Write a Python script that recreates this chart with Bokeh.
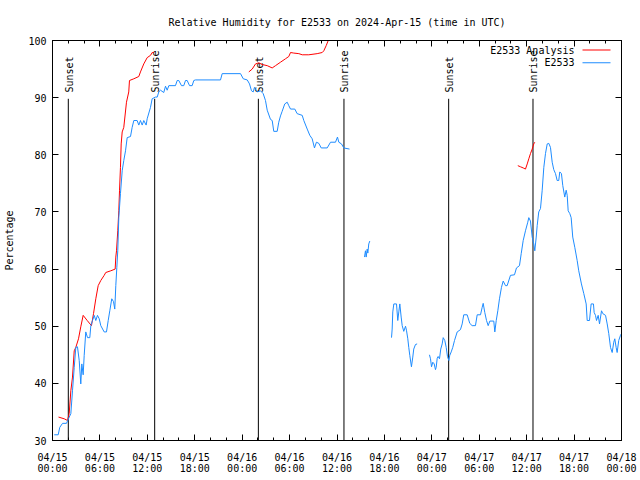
import math
from bokeh.plotting import figure
from bokeh.models import Range1d, FixedTicker, LinearAxis, Label, BoxAnnotation
from bokeh.core.properties import value
from bokeh.embed import file_html
from bokeh.resources import INLINE

NAN = float("nan")

title_text = "Relative Humidity for E2533 on 2024-Apr-15 (time in UTC)"
y_label = "Percentage"

# Observed relative humidity (hours since 2024-04-15 00:00 UTC); NaN = data gap
obs_hours = [
    0.22, 0.72, 0.92, 1.27, 1.77, 2.02, 2.32, 2.53, 2.75, 2.95, 3.16, 3.38, 3.58, 3.71, 3.88,
    4.01, 4.21, 4.43, 4.72, 4.85, 5.06, 5.28, 5.48, 5.69, 5.91, 6.11, 6.54, 6.83, 7.05, 7.25,
    7.50, 7.72, 7.88, 8.01, 8.14, 8.26, 8.39, 8.60, 8.82, 9.02, 9.24, 9.45, 9.87, 10.08, 10.29,
    10.71, 10.92, 11.13, 11.35, 11.55, 11.85, 11.98, 12.40, 12.61, 13.03, 13.25, 13.45, 13.67,
    14.08, 14.30, 14.51, 14.72, 15.56, 15.78, 15.98, 16.32, 16.61, 16.83, 17.04, 17.34, 17.67,
    17.88, 18.09, 21.26, 21.47, 23.79, 24.14, 24.64, 24.93, 25.18, 25.40, 25.56, 25.90, 26.32,
    26.66, 26.95, 27.17, 27.58, 27.80, 28.00, 28.43, 28.63, 28.85, 29.06, 29.39, 29.70, 29.90,
    30.12, 30.66, 30.96, 31.60, 31.80, 32.23, 32.56, 32.86, 33.15, 33.40, 33.70, 34.00, 34.76,
    35.18, 35.81, 36.06, 36.23, 36.57, 36.86, 37.58,
    37.9,
    39.48, 39.60, 39.69, 39.82, 39.90, 40.02, 40.15,
    40.5,
    42.90, 42.98, 43.06, 43.19, 43.53, 43.69, 43.82, 43.95, 44.12, 44.25, 44.45, 44.67, 44.79,
    44.96, 45.08, 45.21, 45.42, 45.59, 45.71, 45.93, 46.14,
    46.5,
    47.70, 47.83, 47.96, 48.12, 48.30, 48.46, 48.55, 48.68, 48.80, 48.97, 49.13, 49.31, 49.44,
    49.64, 49.82, 49.98, 50.15, 50.27, 50.45, 50.65, 50.87, 51.21, 51.62, 51.84, 52.04, 52.47,
    52.80, 53.10, 53.52, 53.74, 54.16, 54.37, 54.50, 54.70, 54.92, 55.13, 55.34, 55.84, 55.97,
    56.15, 56.35, 56.56, 56.81, 57.03, 57.32, 57.53, 57.95, 58.46, 58.71, 59.09, 59.31, 59.56,
    59.85, 60.14, 60.27, 60.48, 60.70, 60.90, 61.03, 61.21, 61.33, 61.53, 61.75, 61.96, 62.17,
    62.38, 62.60, 62.80, 63.01, 63.23, 63.43, 63.65, 63.86, 64.06, 64.19, 64.40, 64.57, 64.82,
    65.00, 65.13, 65.25, 65.46, 65.63, 65.83, 66.09, 66.39, 66.59, 66.93, 67.23, 67.53, 67.66,
    67.95, 68.16, 68.45, 68.54, 68.71, 68.84, 69.05, 69.22, 69.47, 69.64, 69.98, 70.19, 70.39,
    70.61, 70.82, 71.02, 71.15, 71.32, 71.45, 71.65, 71.87, 72.0,
]
obs_rh = [
    31.0, 31.0, 32.3, 33.0, 33.0, 33.8, 34.7, 38.7, 42.8, 46.3, 46.4, 44.0, 39.9, 43.4, 41.5,
    44.9, 49.0, 48.0, 48.0, 50.1, 51.0, 51.9, 51.0, 51.9, 51.3, 50.1, 49.0, 49.0, 51.0, 52.7,
    54.8, 54.3, 53.0, 57.1, 60.3, 63.2, 69.0, 73.2, 77.2, 79.0, 80.7, 83.0, 83.2, 84.8, 86.0,
    86.0, 85.2, 86.0, 85.2, 86.0, 85.2, 86.3, 88.3, 89.8, 90.1, 90.1, 91.0, 91.3,
    90.9, 92.0, 91.3, 92.1, 92.1, 93.0, 93.0, 92.1, 92.1, 93.0, 93.0, 92.1, 92.1,
    93.0, 93.1, 93.1, 94.2, 94.2, 93.3, 93.1, 92.4, 91.2, 91.0, 91.8, 91.0, 91.2,
    90.7, 89.5, 87.8, 86.2, 86.0, 84.1, 84.1, 85.7, 86.8, 87.6, 88.9, 89.2, 88.6,
    88.0, 88.0, 87.2, 86.9, 86.0, 84.5, 83.4, 82.8, 81.2, 82.2, 82.0, 81.2, 81.2,
    82.2, 82.2, 83.1, 82.2, 81.9, 81.2, 81.0,
    NAN,
    62.1, 63.2, 62.1, 63.5, 62.8, 64.4, 64.9,
    NAN,
    48.0, 49.5, 52.5, 53.9, 53.9, 51.0, 52.5, 53.9, 51.6, 50.1, 49.1, 50.0, 49.3,
    47.8, 46.3, 44.9, 42.9, 44.6, 46.0, 46.8, 46.9,
    NAN,
    45.0, 44.3, 42.9, 43.7, 43.4, 42.4, 42.8, 44.4, 44.7, 44.3, 46.0, 46.9, 48.0,
    47.5, 46.3, 44.7, 44.0, 44.9, 45.5, 46.3, 47.5, 49.0, 49.4, 50.4, 52.0, 52.0,
    50.5, 50.1, 50.1, 52.0, 52.0, 53.3, 54.0, 52.4, 51.0, 50.1, 50.9, 50.9, 49.0,
    51.0, 52.7, 54.8, 56.8, 57.9, 57.1, 57.1, 58.9, 59.0, 60.2, 60.6, 62.7, 65.0,
    66.7, 68.2, 69.0, 68.4, 65.6, 64.4, 63.2, 65.6, 67.6, 70.0, 70.6, 73.7, 77.8,
    80.2, 81.9, 82.0, 81.3, 78.7, 77.4, 76.7, 75.5, 75.5, 77.0, 76.7, 74.6, 72.6,
    73.8, 72.9, 70.2, 69.7, 69.0, 65.6, 63.8, 61.5, 59.7, 57.4, 55.7, 53.9, 51.0,
    51.0, 53.9, 53.9, 52.4, 51.9, 51.0, 51.9, 50.4, 52.7, 52.2, 51.9, 50.4, 48.7,
    46.3, 45.4, 47.2, 47.8, 46.3, 45.4, 47.5, 48.4, 48.7,
]

# Analysis relative humidity
ana_hours = [
    0.76, 1.48, 1.90, 2.11, 2.32, 2.53, 2.75, 2.95, 3.29, 3.58, 3.88, 4.39, 4.93, 5.19, 5.48,
    5.78, 6.11, 6.54, 6.74, 7.38, 7.93, 8.01, 8.10, 8.26, 8.39, 8.48, 8.60, 8.69, 8.82, 9.02,
    9.36, 9.65, 9.74, 10.29, 10.92, 11.13, 11.55, 11.98, 12.40, 12.62, 12.82,
    18.0,
    24.84, 25.27, 25.69, 26.10, 26.53, 27.17, 27.80, 28.22, 28.85, 29.48, 29.90, 30.12, 30.53,
    31.17, 31.60, 32.43, 33.49, 34.13, 34.33, 34.63, 34.89, 35.18,
    45.0,
    58.88, 59.22, 59.56, 59.85, 60.07, 60.27, 60.48, 60.70, 60.90, 61.03,
]
ana_rh = [
    34.1, 33.8, 33.5, 34.7, 38.7, 41.1, 45.7, 46.3, 47.8, 49.9, 51.9, 51.0, 50.1, 52.2, 54.8,
    57.1, 58.0, 58.9, 59.4, 59.7, 60.0, 62.1, 63.2, 66.7, 70.2, 73.7, 77.8, 81.9, 84.0, 84.8,
    89.2, 91.0, 93.0, 93.3, 93.7, 94.5, 95.9, 97.0, 97.4, 97.9, 97.9,
    NAN,
    94.5, 95.0, 95.9, 96.1, 95.8, 95.6, 95.2, 95.6, 96.2, 96.8, 97.2, 97.9, 97.8,
    97.7, 97.5, 97.5, 97.7, 97.9, 98.2, 99.1, 100.0, 101.0,
    NAN,
    78.1, 77.9, 77.7, 77.5, 78.4, 79.3, 80.2, 81.0, 81.9, 82.2,
]

sun_hours = [2.0, 12.93, 26.05, 36.88, 50.13, 60.80]
sun_names = ["Sunset", "Sunrise", "Sunset", "Sunrise", "Sunset", "Sunrise"]

tick_hours = [0, 6, 12, 18, 24, 30, 36, 42, 48, 54, 60, 66, 72]
tick_dates = ["04/15", "04/15", "04/15", "04/15", "04/16", "04/16", "04/16", "04/16",
              "04/17", "04/17", "04/17", "04/17", "04/18"]
tick_clock = ["00:00", "06:00", "12:00", "18:00", "00:00", "06:00", "12:00", "18:00",
              "00:00", "06:00", "12:00", "18:00", "00:00"]
y_ticks = [30, 40, 50, 60, 70, 80, 90, 100]

legend_names = ["E2533 Analysis", "E2533"]
ANA_COLOR = "#ff0000"
OBS_COLOR = "#1e8cff"
legend_colors = [ANA_COLOR, OBS_COLOR]

FONT = "DejaVu Sans Mono"
FS = "10px"

p = figure(width=640, height=480, output_backend="svg", toolbar_location=None,
           title=title_text,
           x_range=Range1d(0, 72), y_range=Range1d(30, 100),
           min_border_left=52, min_border_right=19, min_border_top=40, min_border_bottom=40,
           background_fill_color="white", border_fill_color="white",
           outline_line_color="black", outline_line_width=1)
p.grid.visible = False

p.title.align = "center"
p.title.text_font = FONT
p.title.text_font_size = FS
p.title.text_font_style = "normal"
p.title.text_color = "black"
p.title.standoff = 26

minor_hours = list(range(0, 73, 2))

xa = p.xaxis[0]
xa.ticker = FixedTicker(ticks=tick_hours, minor_ticks=minor_hours)
xa.major_label_overrides = {h: f"{d}\n{c}" for h, d, c in zip(tick_hours, tick_dates, tick_clock)}
xa.major_tick_in = 6
xa.major_tick_out = 0
xa.minor_tick_in = 3
xa.minor_tick_out = 0
xa.major_label_standoff = 11
xa.major_label_text_font = FONT
xa.major_label_text_font_size = FS
xa.major_label_text_line_height = 1.0
xa.major_label_text_color = "black"
xa.axis_line_color = "black"

ya = p.yaxis[0]
ya.ticker = FixedTicker(ticks=y_ticks, minor_ticks=[])
ya.major_tick_in = 6
ya.major_tick_out = 0
ya.minor_tick_line_color = None
ya.major_label_standoff = 6
ya.major_label_text_font = FONT
ya.major_label_text_font_size = FS
ya.major_label_text_color = "black"
ya.axis_line_color = "black"
ya.axis_label = y_label
ya.axis_label_text_font = FONT
ya.axis_label_text_font_size = FS
ya.axis_label_text_font_style = "normal"
ya.axis_label_text_color = "black"
ya.axis_label_standoff = 10

top_axis = LinearAxis(ticker=FixedTicker(ticks=tick_hours, minor_ticks=minor_hours),
                      major_tick_in=6, major_tick_out=0, minor_tick_in=3, minor_tick_out=0,
                      major_label_text_font_size="0px", major_label_standoff=0,
                      axis_line_color="black")
p.add_layout(top_axis, "above")
right_axis = LinearAxis(ticker=FixedTicker(ticks=y_ticks, minor_ticks=[]),
                        major_tick_in=6, major_tick_out=0, minor_tick_line_color=None,
                        major_label_text_font_size="0px", major_label_standoff=0,
                        axis_line_color="black")
p.add_layout(right_axis, "right")

# sunrise / sunset markers
p.segment(x0=sun_hours, y0=[30] * len(sun_hours), x1=sun_hours, y1=[89.8] * len(sun_hours),
          line_color="black", line_width=1)
p.text(x=sun_hours, y=[90.9] * len(sun_hours), text=sun_names, angle=math.pi / 2,
       text_align="left", text_baseline="middle", x_offset=1,
       text_font=value(FONT), text_font_size=FS, text_color="black")

# data lines
p.line(ana_hours, ana_rh, line_color=ANA_COLOR, line_width=1)
p.line(obs_hours, obs_rh, line_color=OBS_COLOR, line_width=1)

# legend (text left, sample line right), inside the frame, screen units from frame corner
for i, (name, col) in enumerate(zip(legend_names, legend_colors)):
    yy = 390.5 - 12.8 * i
    p.add_layout(Label(x=522, y=yy, x_units="screen", y_units="screen", text=name,
                       text_align="right", text_baseline="middle",
                       text_font=FONT, text_font_size=FS, text_color="black"))
    p.add_layout(BoxAnnotation(left=530, right=558, bottom=yy - 0.5, top=yy + 0.5,
                               left_units="screen", right_units="screen",
                               bottom_units="screen", top_units="screen",
                               fill_color=col, fill_alpha=1.0, line_color=None))

open("out.html", "w").write(file_html(p, INLINE))
